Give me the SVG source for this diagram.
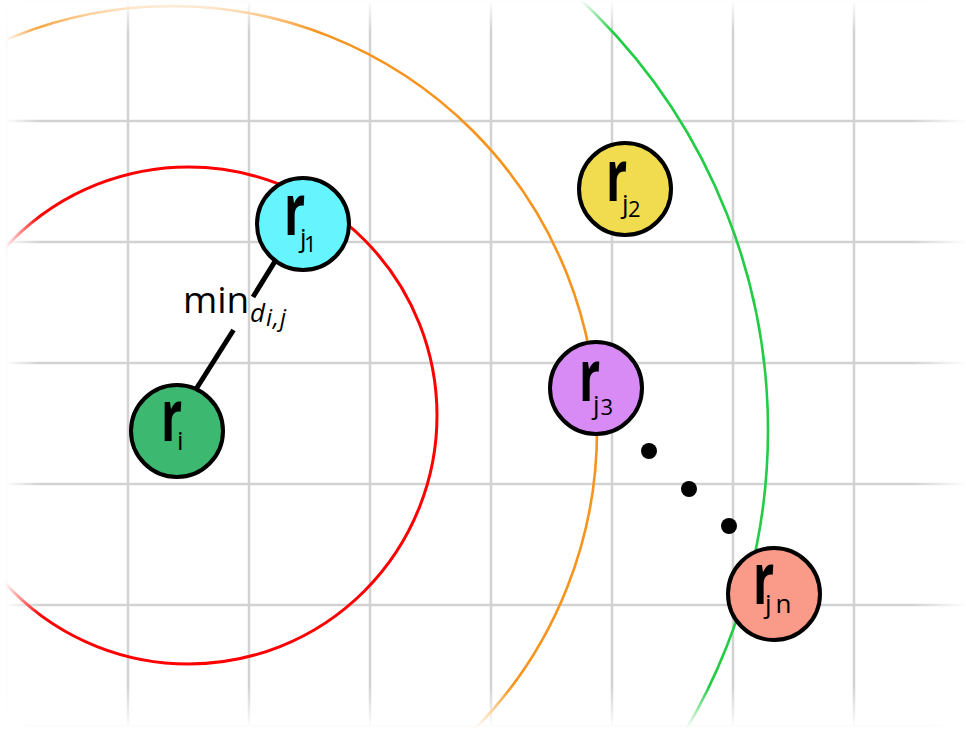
<svg xmlns="http://www.w3.org/2000/svg" width="966" height="731" viewBox="0 0 966 731">
<style>
.grid line{stroke:#d2d2d2;stroke-width:2.5}
.ring{fill:none}
.node circle{stroke:#000;stroke-width:4}
.r{font-family:"Open Sans","Noto Sans",sans-serif;font-weight:700;font-size:72px;fill:#000}
.s{font-family:"Open Sans","Noto Sans",sans-serif;font-size:26px;fill:#000}
.dg{font-size:22px}
.lbl{font-family:"Open Sans","Noto Sans",sans-serif;fill:#000}
.it{font-style:italic}
.conn line{stroke:#000;stroke-width:5;stroke-linecap:butt}
</style>
<defs>
<linearGradient id="fl" gradientUnits="userSpaceOnUse" x1="0" y1="0" x2="40" y2="0"><stop offset="0.12" stop-color="#fff" stop-opacity="1"/><stop offset="1" stop-color="#fff" stop-opacity="0"/></linearGradient>
<linearGradient id="fr" gradientUnits="userSpaceOnUse" x1="966" y1="0" x2="912" y2="0"><stop offset="0" stop-color="#fff" stop-opacity="1"/><stop offset="1" stop-color="#fff" stop-opacity="0"/></linearGradient>
<linearGradient id="ft" gradientUnits="userSpaceOnUse" x1="0" y1="0" x2="0" y2="32"><stop offset="0" stop-color="#fff" stop-opacity="1"/><stop offset="1" stop-color="#fff" stop-opacity="0"/></linearGradient>
<linearGradient id="fb" gradientUnits="userSpaceOnUse" x1="0" y1="731" x2="0" y2="686"><stop offset="0.05" stop-color="#fff" stop-opacity="1"/><stop offset="1" stop-color="#fff" stop-opacity="0"/></linearGradient>
</defs>
<rect width="966" height="731" fill="#fff"/>
<g class="grid">
<line x1="7" y1="0" x2="7" y2="731"/>
<line x1="128" y1="0" x2="128" y2="731"/>
<line x1="249" y1="0" x2="249" y2="731"/>
<line x1="370" y1="0" x2="370" y2="731"/>
<line x1="491" y1="0" x2="491" y2="731"/>
<line x1="612" y1="0" x2="612" y2="731"/>
<line x1="733" y1="0" x2="733" y2="731"/>
<line x1="854" y1="0" x2="854" y2="731"/>
<line x1="0" y1="1" x2="966" y2="1"/>
<line x1="0" y1="121" x2="966" y2="121"/>
<line x1="0" y1="242" x2="966" y2="242"/>
<line x1="0" y1="363" x2="966" y2="363"/>
<line x1="0" y1="484" x2="966" y2="484"/>
<line x1="0" y1="605" x2="966" y2="605"/>
<line x1="0" y1="726" x2="966" y2="726"/>
</g>
<g id="rings">
<circle class="ring" cx="188.5" cy="415.5" r="248.5" stroke="#ff0000" stroke-width="3"/>
<circle class="ring" cx="172" cy="431" r="425" stroke="#f7941d" stroke-width="2.6"/>
<circle class="ring" cx="180" cy="430" r="588" stroke="#22cc44" stroke-width="2.6"/>
</g>
<g class="conn" id="connectors">
<line x1="186" y1="405" x2="233.5" y2="330"/>
<line x1="253" y1="297" x2="282" y2="250"/>
<circle cx="649" cy="451" r="8" fill="#000"/>
<circle cx="689" cy="489" r="8" fill="#000"/>
<circle cx="729" cy="526" r="8" fill="#000"/>
</g>
<g id="label-min">
<text class="lbl" x="183" y="313" font-size="37">min</text>
<text class="lbl it" x="250" y="322" font-size="26">d</text>
<text class="lbl it" x="266" y="326" font-size="24" letter-spacing="1">i,j</text>
</g>
<g class="node" id="node-ri">
<circle cx="177" cy="431" r="46" fill="#3db870"/>
<text class="r" transform="translate(161,440.7) scale(0.65,1)">r</text>
<text class="s" x="177" y="450">i</text>
</g>
<g class="node" id="node-rj1">
<circle cx="303" cy="224" r="46" fill="#66f4ff"/>
<text class="r" transform="translate(284,235) scale(0.65,1)">r</text>
<text class="s" x="300" y="247">j</text>
<text class="s dg" x="304" y="251.5">1</text>
</g>
<g class="node" id="node-rj2">
<circle cx="625" cy="189" r="46" fill="#f0dc4e"/>
<text class="r" transform="translate(606,200.7) scale(0.65,1)">r</text>
<text class="s" x="622" y="213">j</text>
<text class="s dg" x="628" y="217">2</text>
</g>
<g class="node" id="node-rj3">
<circle cx="596" cy="388" r="46" fill="#d88bf4"/>
<text class="r" transform="translate(579,400.7) scale(0.65,1)">r</text>
<text class="s" x="593" y="414">j</text>
<text class="s dg" x="600.5" y="415">3</text>
</g>
<g class="node" id="node-rjn">
<circle cx="774" cy="594" r="46" fill="#f99b88"/>
<text class="r" transform="translate(753,604) scale(0.65,1)">r</text>
<text class="s" x="765" y="613">j</text>
<text class="s" x="775.5" y="613" font-size="24">n</text>
</g>
<g id="fade">
<rect x="0" y="0" width="40" height="731" fill="url(#fl)"/>
<rect x="912" y="0" width="54" height="731" fill="url(#fr)"/>
<rect x="0" y="0" width="966" height="32" fill="url(#ft)"/>
<rect x="0" y="686" width="966" height="45" fill="url(#fb)"/>
</g>
</svg>
